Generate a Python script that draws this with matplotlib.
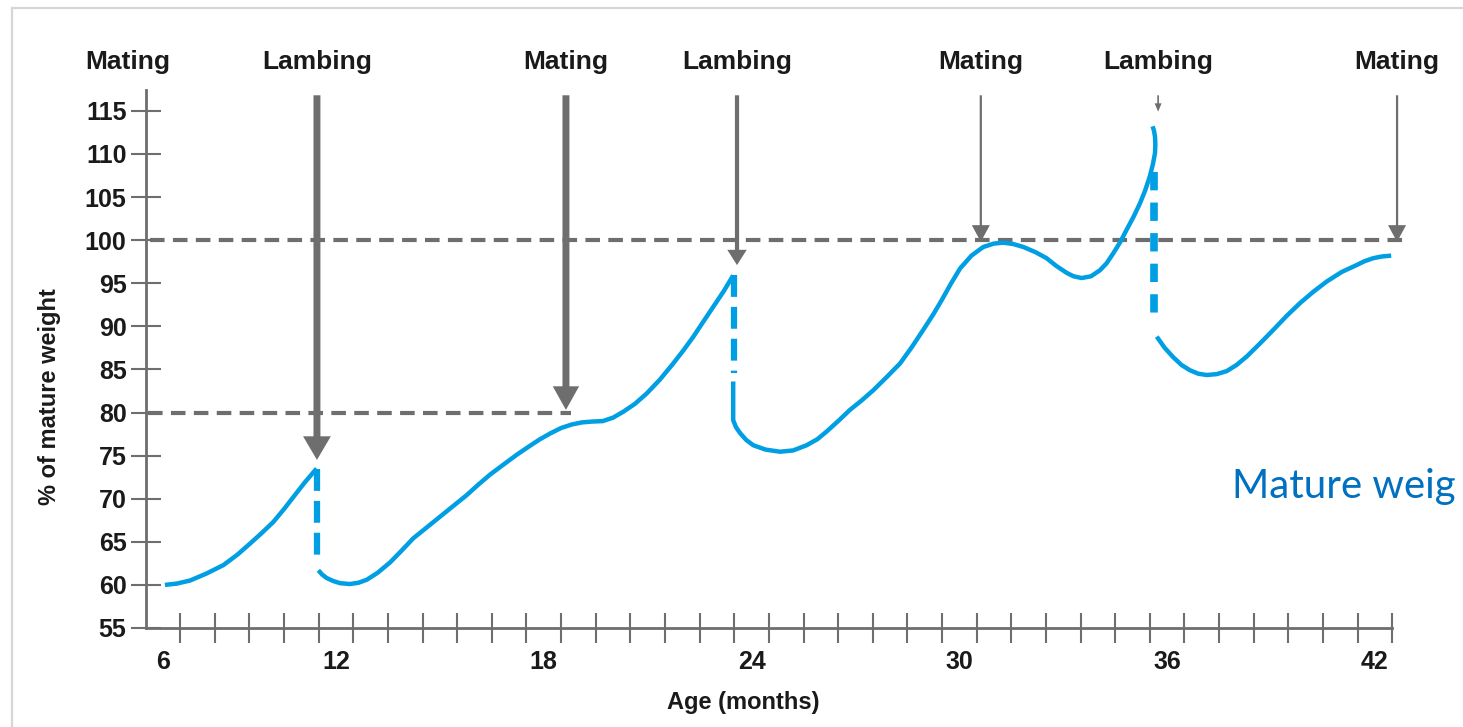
import matplotlib
matplotlib.use("Agg")
import matplotlib.pyplot as plt
from matplotlib.lines import Line2D

# ---- palette ----
BLUE = "#009FE3"
GREY = "#6E6E6E"
INK = "#1A1A1A"
NOTE = "#0070C0"
FRAME = "#D6D6D6"

FONT = ["Liberation Sans", "DejaVu Sans"]

# ---- data (age in months, % of mature weight) ----
# growth segments, split at each lambing drop
seg1_age = [7.06, 7.40, 7.78, 8.25, 8.75, 9.15, 9.52, 9.85, 10.19, 10.50,
            10.77, 11.10, 11.44]
seg1_pct = [60.0, 60.15, 60.5, 61.3, 62.3, 63.5, 64.8, 66.0, 67.3, 68.8,
            70.2, 71.9, 73.5]

seg2_age = [11.49, 11.60, 11.73, 11.92, 12.12, 12.40, 12.65, 12.89, 13.20,
            13.56, 13.90, 14.23, 14.60, 15.00, 15.40, 15.77, 16.10, 16.45,
            16.85, 17.22, 17.55, 17.89, 18.20, 18.50, 18.80, 19.10, 19.40,
            19.70, 20.00, 20.30, 20.63, 20.97, 21.35, 21.74, 22.03, 22.32,
            22.60, 22.90, 23.20, 23.47]
seg2_pct = [61.7, 61.2, 60.8, 60.45, 60.2, 60.1, 60.25, 60.6, 61.4,
            62.6, 64.0, 65.4, 66.6, 67.9, 69.2, 70.4, 71.6, 72.8,
            74.0, 75.1, 76.0, 76.9, 77.6, 78.2, 78.6, 78.85, 78.95,
            79.0, 79.4, 80.1, 81.0, 82.2, 83.8, 85.7, 87.2, 88.8,
            90.5, 92.3, 94.1, 95.9]

seg3_age = [23.47, 23.47, 23.55, 23.67, 23.85, 24.05, 24.40, 24.82, 25.20,
            25.59, 25.90, 26.17, 26.50, 26.84, 27.18, 27.52, 27.90, 28.29,
            28.63, 28.96, 29.25, 29.50, 29.75, 30.02, 30.35, 30.69, 31.00,
            31.27, 31.55, 31.85, 32.20, 32.52, 32.80, 33.10, 33.30, 33.53,
            33.80, 34.06, 34.25, 34.45, 34.65, 34.83, 35.03, 35.22, 35.37,
            35.50, 35.59, 35.65, 35.66, 35.65, 35.62, 35.58]
seg3_pct = [83.6, 79.1, 78.3, 77.6, 76.8, 76.2, 75.7, 75.45, 75.6,
            76.2, 76.9, 77.8, 79.0, 80.3, 81.4, 82.6, 84.1, 85.7,
            87.6, 89.6, 91.4, 93.1, 94.9, 96.7, 98.2, 99.2, 99.6,
            99.7, 99.55, 99.2, 98.6, 97.9, 97.0, 96.2, 95.8, 95.6,
            95.8, 96.5, 97.3, 98.5, 99.8, 101.2, 102.7, 104.3, 105.8,
            107.4, 108.8, 110.1, 111.1, 112.0, 112.7, 113.2]

seg4_age = [35.70, 35.93, 36.18, 36.42, 36.66, 36.90, 37.14, 37.43, 37.72,
            38.00, 38.30, 38.68, 39.07, 39.45, 39.84, 40.22, 40.61, 41.04,
            41.47, 41.70, 41.95, 42.20, 42.47]
seg4_pct = [88.8, 87.5, 86.4, 85.5, 84.9, 84.5, 84.35, 84.45, 84.8,
            85.5, 86.5, 88.0, 89.6, 91.2, 92.7, 94.0, 95.2, 96.3,
            97.1, 97.55, 97.9, 98.1, 98.2]

# weight drop at lambing (dashed verticals): age, top, bottom
drop_age = [11.44, 23.50, 35.63]
drop_top = [73.5, 95.9, 107.9]
drop_bot = [62.9, 84.6, 90.4]

# events along the top
event_names = ["Mating", "Lambing", "Mating", "Lambing", "Mating", "Lambing", "Mating"]
event_age = [6.0, 11.45, 18.64, 23.58, 30.62, 35.74, 42.64]
arrow_tip = [None, 74.5, 80.3, 97.1, 99.8, 114.9, 99.8]

# target weights (dashed horizontals): level, from, to
target_pct = [100, 80]
target_from = [6.62, 6.57]
target_to = [43.0, 18.8]

y_ticks = list(range(55, 120, 5))
x_labels = ["6", "12", "18", "24", "30", "36", "42"]
x_label_pos = [7, 12, 18, 24, 30, 36, 42]

# arrow styles (points): shaft width, head width, head length
arrow_tail = [0, 5.0, 5.0, 3.0, 1.6, 1.2, 1.6]
arrow_hw = [0, 20, 19, 14, 13, 5, 13]
arrow_hl = [0, 17, 17, 11, 12, 6, 12]

# ---- figure ----
fig = plt.figure(figsize=(14.63, 7.27), dpi=100)
ax = fig.add_axes([0, 0, 1, 1])
ax.set_facecolor("white")
ax.set_xlim(2.2975, 44.544)
ax.set_ylim(43.515, 127.854)

# frame of the slide screenshot
fig.add_artist(Line2D([12 / 1463, 1.0], [1 - 8 / 727] * 2, color=FRAME, lw=1.6))
fig.add_artist(Line2D([12 / 1463] * 2, [0, 1 - 8 / 727], color=FRAME, lw=1.6))

# axes spines
for side in ("top", "right"):
    ax.spines[side].set_visible(False)
ax.spines["left"].set_position(("data", 6.5))
ax.spines["left"].set_bounds(55, 117.4)
ax.spines["bottom"].set_position(("data", 55))
ax.spines["bottom"].set_bounds(6.5, 42.5)
for side in ("left", "bottom"):
    ax.spines[side].set_color(GREY)
    ax.spines[side].set_linewidth(2.0)

ax.set_yticks(y_ticks)
ax.set_yticklabels([str(v) for v in y_ticks])
ax.tick_params(axis="y", direction="inout", length=21, width=1.5, color=GREY,
               pad=3.2, labelsize=18, labelcolor=INK)
ax.set_xticks(x_label_pos)
ax.set_xticklabels(x_labels)
ax.set_xticks([m + 0.5 for m in range(7, 43)], minor=True)
ax.tick_params(axis="x", which="major", length=0, pad=16, labelsize=18,
               labelcolor=INK)
ax.tick_params(axis="x", which="minor", direction="inout", length=21,
               width=1.5, color=GREY)
for lab in ax.get_xticklabels() + ax.get_yticklabels():
    lab.set_family(FONT)
    lab.set_fontweight("bold")

# target weight lines
for lvl, x0, x1 in zip(target_pct, target_from, target_to):
    ax.plot([x0, x1], [lvl, lvl], color=GREY, lw=3.0,
            linestyle=(0, (3.5, 2.0)), solid_capstyle="butt", zorder=2)

# growth curve
for xs, ys in [(seg1_age, seg1_pct), (seg2_age, seg2_pct),
               (seg3_age, seg3_pct), (seg4_age, seg4_pct)]:
    ax.plot(xs, ys, color=BLUE, lw=3.2, solid_capstyle="butt",
            solid_joinstyle="round", zorder=3)

for i, (x, top, bot) in enumerate(zip(drop_age, drop_top, drop_bot)):
    lw = 5.5 if i == 2 else 4.5
    ax.plot([x, x], [top, bot], color=BLUE, lw=lw,
            linestyle=(0, (2.4, 1.6)) if i == 2 else (0, (3.5, 1.6)),
            dash_capstyle="butt", zorder=3)

# event arrows and labels
for name, x, tip, tw, hw, hl in zip(event_names, event_age, arrow_tip,
                                    arrow_tail, arrow_hw, arrow_hl):
    ax.text(x, 120.66, name, ha="center", va="center", fontsize=19,
            fontweight="bold", family=FONT, color=INK)
    if tip is None:
        continue
    ax.annotate("", xy=(x, tip), xytext=(x, 116.8),
                arrowprops=dict(
                    arrowstyle=f"simple,head_length={hl},head_width={hw},tail_width={tw}",
                    mutation_scale=1, fc=GREY, ec="none", lw=0,
                    shrinkA=0, shrinkB=0), zorder=4)

# axis titles
fig.text(50 / 1463, 1 - 397 / 727, "% of mature weight", rotation=90,
         ha="center", va="center", fontsize=17, fontweight="bold",
         family=FONT, color=INK)
fig.text(743 / 1463, 1 - 703 / 727, "Age (months)", ha="center", va="center",
         fontsize=17, fontweight="bold", family=FONT, color=INK)

# slide annotation, shown cut short at the right edge as in the original
ax.text(37.87, 70.08, "Mature weig", ha="left", va="baseline",
        fontsize=29, family=["Lato", "DejaVu Sans"], color=NOTE)

fig.savefig("out.png", dpi=100, facecolor="white")
